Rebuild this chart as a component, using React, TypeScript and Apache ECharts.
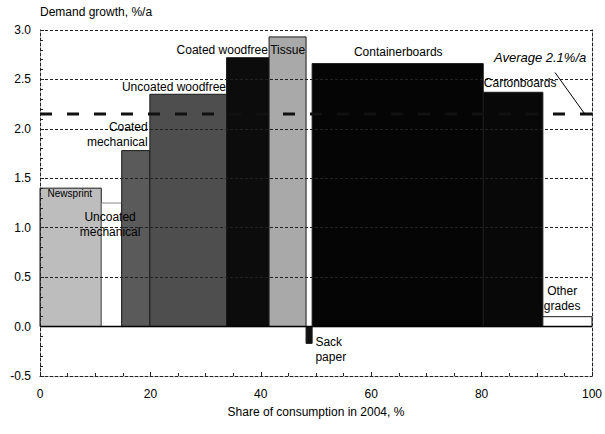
import React, { useEffect, useRef } from "react";
import * as echarts from "echarts";

// ---- data ----
const CATEGORIES = [
  "Newsprint",
  "Uncoated mechanical",
  "Coated mechanical",
  "Uncoated woodfree",
  "Coated woodfree",
  "Tissue",
  "Sack paper",
  "Containerboards",
  "Cartonboards",
  "Other grades",
];
// share of consumption in 2004, % (bar widths)
const SHARES = [11.1, 3.7, 5.1, 13.9, 7.7, 6.7, 1.1, 31.0, 10.8, 8.9];
// demand growth, %/a (bar heights)
const GROWTH = [1.4, 1.25, 1.78, 2.35, 2.72, 2.93, -0.17, 2.66, 2.37, 0.1];
const AVERAGE = 2.15;
const X_TICKS = [0, 20, 40, 60, 80, 100];
const Y_TICKS = [-0.5, 0, 0.5, 1, 1.5, 2, 2.5, 3];

// ---- styles ----
const COLORS = [
  "#bdbdbd",
  "none",
  "#5a5a5a",
  "#4e4e4e",
  "#0c0c0c",
  "#a9a9a9",
  "#111111",
  "#050505",
  "#080808",
  "#ffffff",
];
const STROKES = [
  "#1a1a1a",
  "#888888",
  "#1a1a1a",
  "#1a1a1a",
  "#1a1a1a",
  "#1a1a1a",
  "#1a1a1a",
  "#1a1a1a",
  "#1a1a1a",
  "#1a1a1a",
];
const FONT = "'Liberation Sans', Arial, sans-serif";

// label annotations (anchor in data coordinates)
const LABELS = [
  { text: "Newsprint", x: 5.4, y: 1.35, align: "center", size: 10 },
  { text: "Uncoated\nmechanical", x: 12.7, y: 1.03, align: "center", size: 12 },
  { text: "Coated\nmechanical", x: 19.5, y: 1.94, align: "right", size: 12 },
  { text: "Uncoated woodfree", x: 33.7, y: 2.42, align: "right", size: 12 },
  { text: "Coated woodfree", x: 41.3, y: 2.8, align: "right", size: 12 },
  { text: "Tissue", x: 41.7, y: 2.8, align: "left", size: 12 },
  { text: "Containerboards", x: 64.9, y: 2.78, align: "center", size: 12 },
  { text: "Cartonboards", x: 80.4, y: 2.46, align: "left", size: 12 },
  { text: "Other\ngrades", x: 94.6, y: 0.28, align: "center", size: 12 },
  { text: "Sack\npaper", x: 49.9, y: -0.23, align: "left", size: 12 },
];
const AVG_LABEL = { text: "Average 2.1%/a", x: 90.6, y: 2.72 };
const AVG_LEADER = [
  [93.3, 2.57],
  [98.7, AVERAGE],
];

export default function App() {
  const ref = useRef<HTMLDivElement>(null);

  useEffect(() => {
    if (!ref.current) return;
    const chart = echarts.init(ref.current, undefined, { renderer: "svg" });

    let acc = 0;
    const barData = SHARES.map((w, i) => {
      const start = acc;
      acc += w;
      return [start, acc, GROWTH[i], i];
    });

    const dashed = { type: [3, 2] as any, color: "#222", width: 1 };

    chart.setOption({
      animation: false,
      backgroundColor: "#fff",
      textStyle: { fontFamily: FONT, color: "#000" },
      grid: { left: 40, right: 13, top: 30, bottom: 58 },
      xAxis: {
        type: "value",
        min: 0,
        max: 100,
        interval: 20,
        z: 5,
        name: "Share of consumption in 2004, %",
        nameLocation: "middle",
        nameGap: 30,
        nameTextStyle: { fontSize: 12, color: "#000", fontFamily: FONT },
        axisLine: { show: true, onZero: false, lineStyle: dashed },
        axisTick: { show: true, inside: true, length: 4, lineStyle: { color: "#222" } },
        minorTick: { show: true, splitNumber: 4, length: 3, lineStyle: { color: "#222" } },
        splitLine: { show: false },
        axisLabel: {
          fontSize: 12,
          color: "#000",
          margin: 12,
          fontFamily: FONT,
          formatter: (v: number) => (X_TICKS.includes(v) ? String(v) : ""),
        },
      },
      yAxis: [
        {
          type: "value",
          min: -0.5,
          max: 3,
          interval: 0.5,
          z: 5,
          axisLine: { show: true, onZero: false, lineStyle: dashed },
          axisTick: { show: true, inside: true, length: 4, lineStyle: { color: "#222" } },
          minorTick: { show: true, splitNumber: 5, length: 3, lineStyle: { color: "#222" } },
          splitLine: { show: true, lineStyle: dashed },
          axisLabel: {
            fontSize: 12,
            color: "#000",
            margin: 9,
            fontFamily: FONT,
            formatter: (v: number) =>
              Y_TICKS.some((t) => Math.abs(t - v) < 1e-9) ? v.toFixed(1) : "",
          },
        },
        {
          type: "value",
          position: "right",
          min: -0.5,
          max: 3,
          interval: 0.5,
          z: 5,
          axisLine: { show: true, onZero: false, lineStyle: dashed },
          axisTick: { show: false },
          axisLabel: { show: false },
          splitLine: { show: false },
        },
      ],
      series: [
        {
          type: "custom",
          name: "grades",
          data: barData,
          encode: { x: [0, 1], y: 2 },
          z: 2,
          renderItem: (_params: any, api: any) => {
            const x0 = api.value(0);
            const x1 = api.value(1);
            const v = api.value(2);
            const i = api.value(3);
            const pTop = api.coord([x0, Math.max(v, 0)]);
            const pBot = api.coord([x1, Math.min(v, 0)]);
            return {
              type: "rect",
              shape: {
                x: pTop[0],
                y: pTop[1],
                width: pBot[0] - pTop[0],
                height: pBot[1] - pTop[1],
              },
              style: { fill: COLORS[i], stroke: STROKES[i], lineWidth: 1 },
            };
          },
        },
        {
          type: "line",
          name: "zero",
          data: [
            [0, 0],
            [100, 0],
          ],
          symbol: "none",
          z: 6,
          lineStyle: { color: "#000", width: 1.5 },
          silent: true,
        },
        {
          type: "line",
          name: "average",
          data: [
            [0, AVERAGE],
            [100, AVERAGE],
          ],
          symbol: "none",
          z: 7,
          lineStyle: { color: "#111", width: 3, type: [12, 15] as any },
          silent: true,
        },
      ],
    });

    const px = (x: number, y: number) =>
      chart.convertToPixel({ gridIndex: 0 } as any, [x, y]) as number[];

    const graphics: any[] = [
      {
        type: "text",
        left: 40,
        top: 6,
        style: {
          text: "Demand growth, %/a",
          font: `12px ${FONT}`,
          fill: "#000",
        },
        z: 10,
      },
    ];
    LABELS.forEach((l) => {
      const p = px(l.x, l.y);
      graphics.push({
        type: "text",
        x: p[0],
        y: p[1],
        z: 10,
        style: {
          text: l.text,
          font: `${l.size}px ${FONT}`,
          fill: "#000",
          align: l.align,
          verticalAlign: "middle",
          lineHeight: 15,
        },
      });
    });
    const ap = px(AVG_LABEL.x, AVG_LABEL.y);
    graphics.push({
      type: "text",
      x: ap[0],
      y: ap[1],
      z: 10,
      style: {
        text: AVG_LABEL.text,
        font: `italic 13px ${FONT}`,
        fill: "#000",
        align: "center",
        verticalAlign: "middle",
      },
    });
    const l0 = px(AVG_LEADER[0][0], AVG_LEADER[0][1]);
    const l1 = px(AVG_LEADER[1][0], AVG_LEADER[1][1]);
    graphics.push({
      type: "line",
      z: 10,
      shape: { x1: l0[0], y1: l0[1], x2: l1[0], y2: l1[1] },
      style: { stroke: "#000", lineWidth: 1 },
    });
    chart.setOption({ graphic: graphics });

    return () => chart.dispose();
  }, []);

  return (
    <div
      ref={ref}
      style={{ position: "absolute", left: 0, top: 0, width: 605, height: 434 }}
    />
  );
}
